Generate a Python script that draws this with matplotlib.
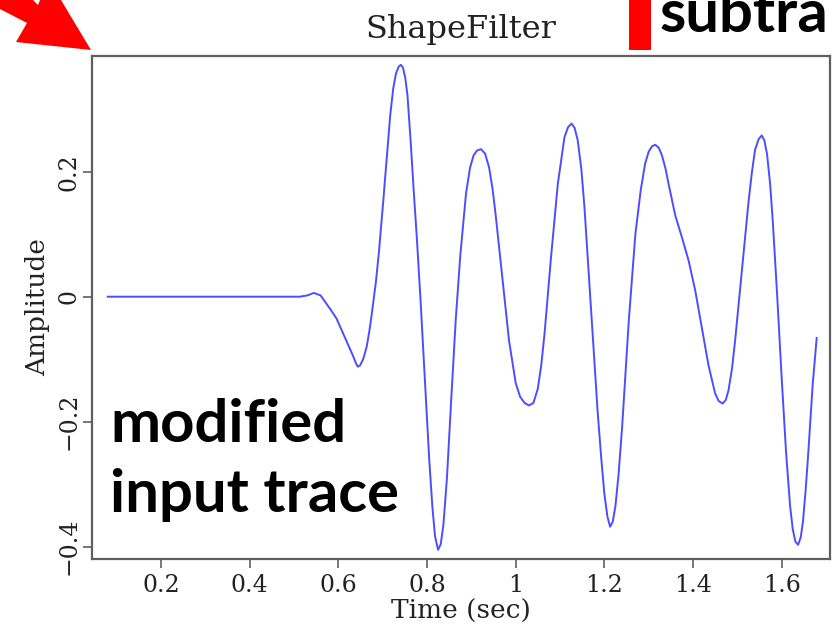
import matplotlib.pyplot as plt
from matplotlib.patches import Polygon, Rectangle

# trace (time in sec, amplitude)
time = [0.080, 0.513, 0.530, 0.545, 0.560, 0.581, 0.596, 0.611, 0.624, 0.634,
        0.640, 0.644, 0.649, 0.656, 0.664, 0.670, 0.675, 0.685, 0.692, 0.701,
        0.710, 0.717, 0.724, 0.730, 0.736, 0.741, 0.746, 0.751, 0.756, 0.763,
        0.770, 0.777, 0.785, 0.795, 0.805, 0.812, 0.818, 0.825, 0.831, 0.837,
        0.845, 0.855, 0.865, 0.875, 0.888, 0.897, 0.905, 0.913, 0.922, 0.931,
        0.940, 0.948, 0.955, 0.970, 0.985, 1.000, 1.010, 1.020, 1.030, 1.040,
        1.050, 1.058, 1.065, 1.080, 1.095, 1.110, 1.118, 1.126, 1.133, 1.140,
        1.148, 1.155, 1.170, 1.185, 1.193, 1.200, 1.207, 1.213, 1.219, 1.225,
        1.232, 1.240, 1.255, 1.270, 1.282, 1.292, 1.300, 1.308, 1.315, 1.323,
        1.330, 1.338, 1.345, 1.360, 1.375, 1.390, 1.405, 1.420, 1.435, 1.450,
        1.458, 1.467, 1.474, 1.480, 1.488, 1.495, 1.510, 1.525, 1.533, 1.540,
        1.548, 1.555, 1.561, 1.567, 1.574, 1.580, 1.590, 1.600, 1.610, 1.619,
        1.625, 1.631, 1.637, 1.643, 1.648, 1.654, 1.660, 1.670, 1.679]
amp = [0.000, 0.000, 0.002, 0.006, 0.002, -0.019, -0.035, -0.059, -0.080, -0.096,
       -0.107, -0.112, -0.110, -0.100, -0.080, -0.055, -0.030, 0.025, 0.075, 0.150,
       0.230, 0.290, 0.334, 0.357, 0.368, 0.371, 0.366, 0.350, 0.322, 0.250,
       0.170, 0.095, 0.000, -0.130, -0.260, -0.335, -0.383, -0.405, -0.396, -0.365,
       -0.290, -0.160, -0.035, 0.065, 0.165, 0.206, 0.226, 0.234, 0.236, 0.229,
       0.207, 0.172, 0.130, 0.030, -0.070, -0.138, -0.160, -0.170, -0.174, -0.170,
       -0.147, -0.108, -0.060, 0.065, 0.180, 0.255, 0.271, 0.277, 0.270, 0.250,
       0.205, 0.145, -0.020, -0.185, -0.258, -0.315, -0.352, -0.368, -0.360, -0.335,
       -0.285, -0.210, -0.040, 0.100, 0.170, 0.213, 0.232, 0.241, 0.243, 0.238,
       0.226, 0.205, 0.180, 0.130, 0.095, 0.058, 0.010, -0.050, -0.110, -0.155,
       -0.167, -0.171, -0.165, -0.150, -0.115, -0.070, 0.040, 0.150, 0.200, 0.235,
       0.252, 0.258, 0.250, 0.228, 0.180, 0.120, 0.000, -0.130, -0.250, -0.335,
       -0.372, -0.392, -0.397, -0.385, -0.360, -0.310, -0.250, -0.140, -0.066]

xticks = [0.2, 0.4, 0.6, 0.8, 1.0, 1.2, 1.4, 1.6]
xtick_labels = ["0.2", "0.4", "0.6", "0.8", "1", "1.2", "1.4", "1.6"]
yticks = [-0.4, -0.2, 0.0, 0.2]
ytick_labels = ["\u22120.4", "\u22120.2", "0", "0.2"]

W, H = 833, 627
fig = plt.figure(figsize=(W / 100, H / 100), dpi=100)
ax = fig.add_axes([92 / W, 1 - 559 / H, (830 - 92) / W, (559 - 55.7) / H])

ax.plot(time, amp, color="#4d4dff", lw=1.4)
ax.set_xlim(0.0444, 1.709)
ax.set_ylim(-0.4197, 0.3856)

serif = "DejaVu Serif"
ax.set_xticks(xticks)
ax.set_xticklabels(xtick_labels, fontfamily=serif, fontsize=17, color="#222222")
ax.set_yticks(yticks)
ax.set_yticklabels(ytick_labels, fontfamily=serif, fontsize=17, color="#222222",
                   rotation=90, va="center")
ax.tick_params(direction="out", length=6.5, width=1.2, color="#606060")
ax.tick_params(axis="x", pad=4)
ax.tick_params(axis="y", pad=2)
for s in ax.spines.values():
    s.set_color("#606060")
    s.set_linewidth(1.6)

ax.set_xlabel("Time (sec)", fontfamily=serif, fontsize=19, color="#222222", labelpad=2)
ax.set_ylabel("Amplitude", fontfamily=serif, fontsize=19, color="#222222", labelpad=5)
ax.set_title("ShapeFilter", fontfamily=serif, fontsize=23, color="#222222", pad=13)

# slide overlays
def px(x, y):
    return (x / W, 1 - y / H)

bold = dict(fontfamily="Lato", fontweight="bold", fontsize=43, color="black")
fig.text(*px(110, 442), "modified", ha="left", va="baseline", **bold)
fig.text(*px(110, 512), "input trace", ha="left", va="baseline", **bold)
fig.text(*px(660, 32), "subtra", ha="left", va="baseline", **bold)

arrow = [(0, 0), (33, 0), (38, 5), (40, 0), (61, 0), (91, 50), (16, 42), (27, 23), (0, 9)]
fig.patches.append(Polygon([px(x, y) for x, y in arrow], closed=True,
                           transform=fig.transFigure, color="#ff0000", lw=0))
fig.patches.append(Rectangle(px(629, 50), 22 / W, 50 / H,
                             transform=fig.transFigure, color="#ff0000", lw=0))

fig.savefig("out.png", dpi=100)
